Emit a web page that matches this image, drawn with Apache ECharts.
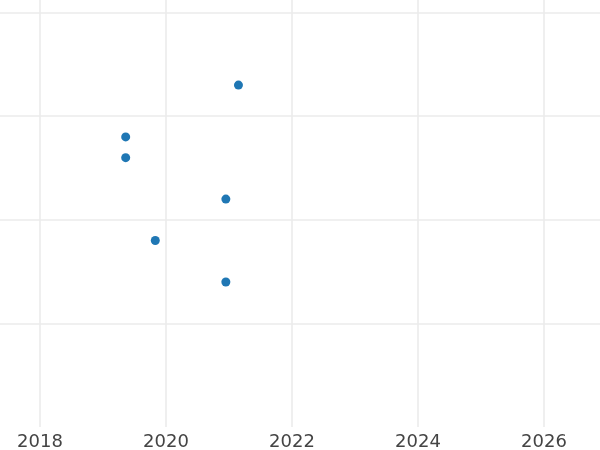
<!DOCTYPE html>
<html>
<head>
<meta charset="utf-8">
<script src="https://cdn.jsdelivr.net/npm/echarts@6/dist/echarts.min.js"></script>
<style>
  html, body { margin: 0; padding: 0; background: #fff; }
  #chart { width: 600px; height: 450px; }
</style>
</head>
<body>
<div id="chart"></div>
<script>
// decimal years
const xYears = [2021.15, 2019.36, 2019.36, 2020.95, 2019.83, 2020.95]
const yValues = [3.3, 2.8, 2.6, 2.2, 1.8, 1.4]

const xTickStep = 2
const yTickStep = 1

const points = xYears.map((x, i) => [x, yValues[i]])

const chart = echarts.init(document.getElementById('chart'))

// axis spans wider than the window, grid pushed outside so the
// visible part runs ~2017.4 .. 2026.9
const option = {
  animation: false,
  backgroundColor: '#fff',
  grid: {
    left: -86,
    right: -70,
    top: -91,
    bottom: 23,
    containLabel: false,
    outerBoundsMode: 'none'
  },
  xAxis: {
    type: 'value',
    min: 2016,
    max: 2028,
    interval: xTickStep,
    axisLine: { show: false },
    axisTick: { show: false },
    axisLabel: {
      color: '#444',
      fontSize: 18,
      fontFamily: 'DejaVu Sans',
      margin: 6,
      formatter: v => String(v)
    },
    splitLine: {
      show: true,
      lineStyle: { color: '#ebebeb', width: 1.6 }
    }
  },
  yAxis: {
    type: 'value',
    min: 0,
    max: 5,
    interval: yTickStep,
    axisLine: { show: false },
    axisTick: { show: false },
    axisLabel: { show: false },
    splitLine: {
      show: true,
      showMinLine: false,
      lineStyle: { color: '#ebebeb', width: 1.6 }
    }
  },
  series: [{
    type: 'scatter',
    data: points,
    symbolSize: 9,
    itemStyle: { color: '#1f77b4', opacity: 1 }
  }]
}

chart.setOption(option)
</script>
</body>
</html>
